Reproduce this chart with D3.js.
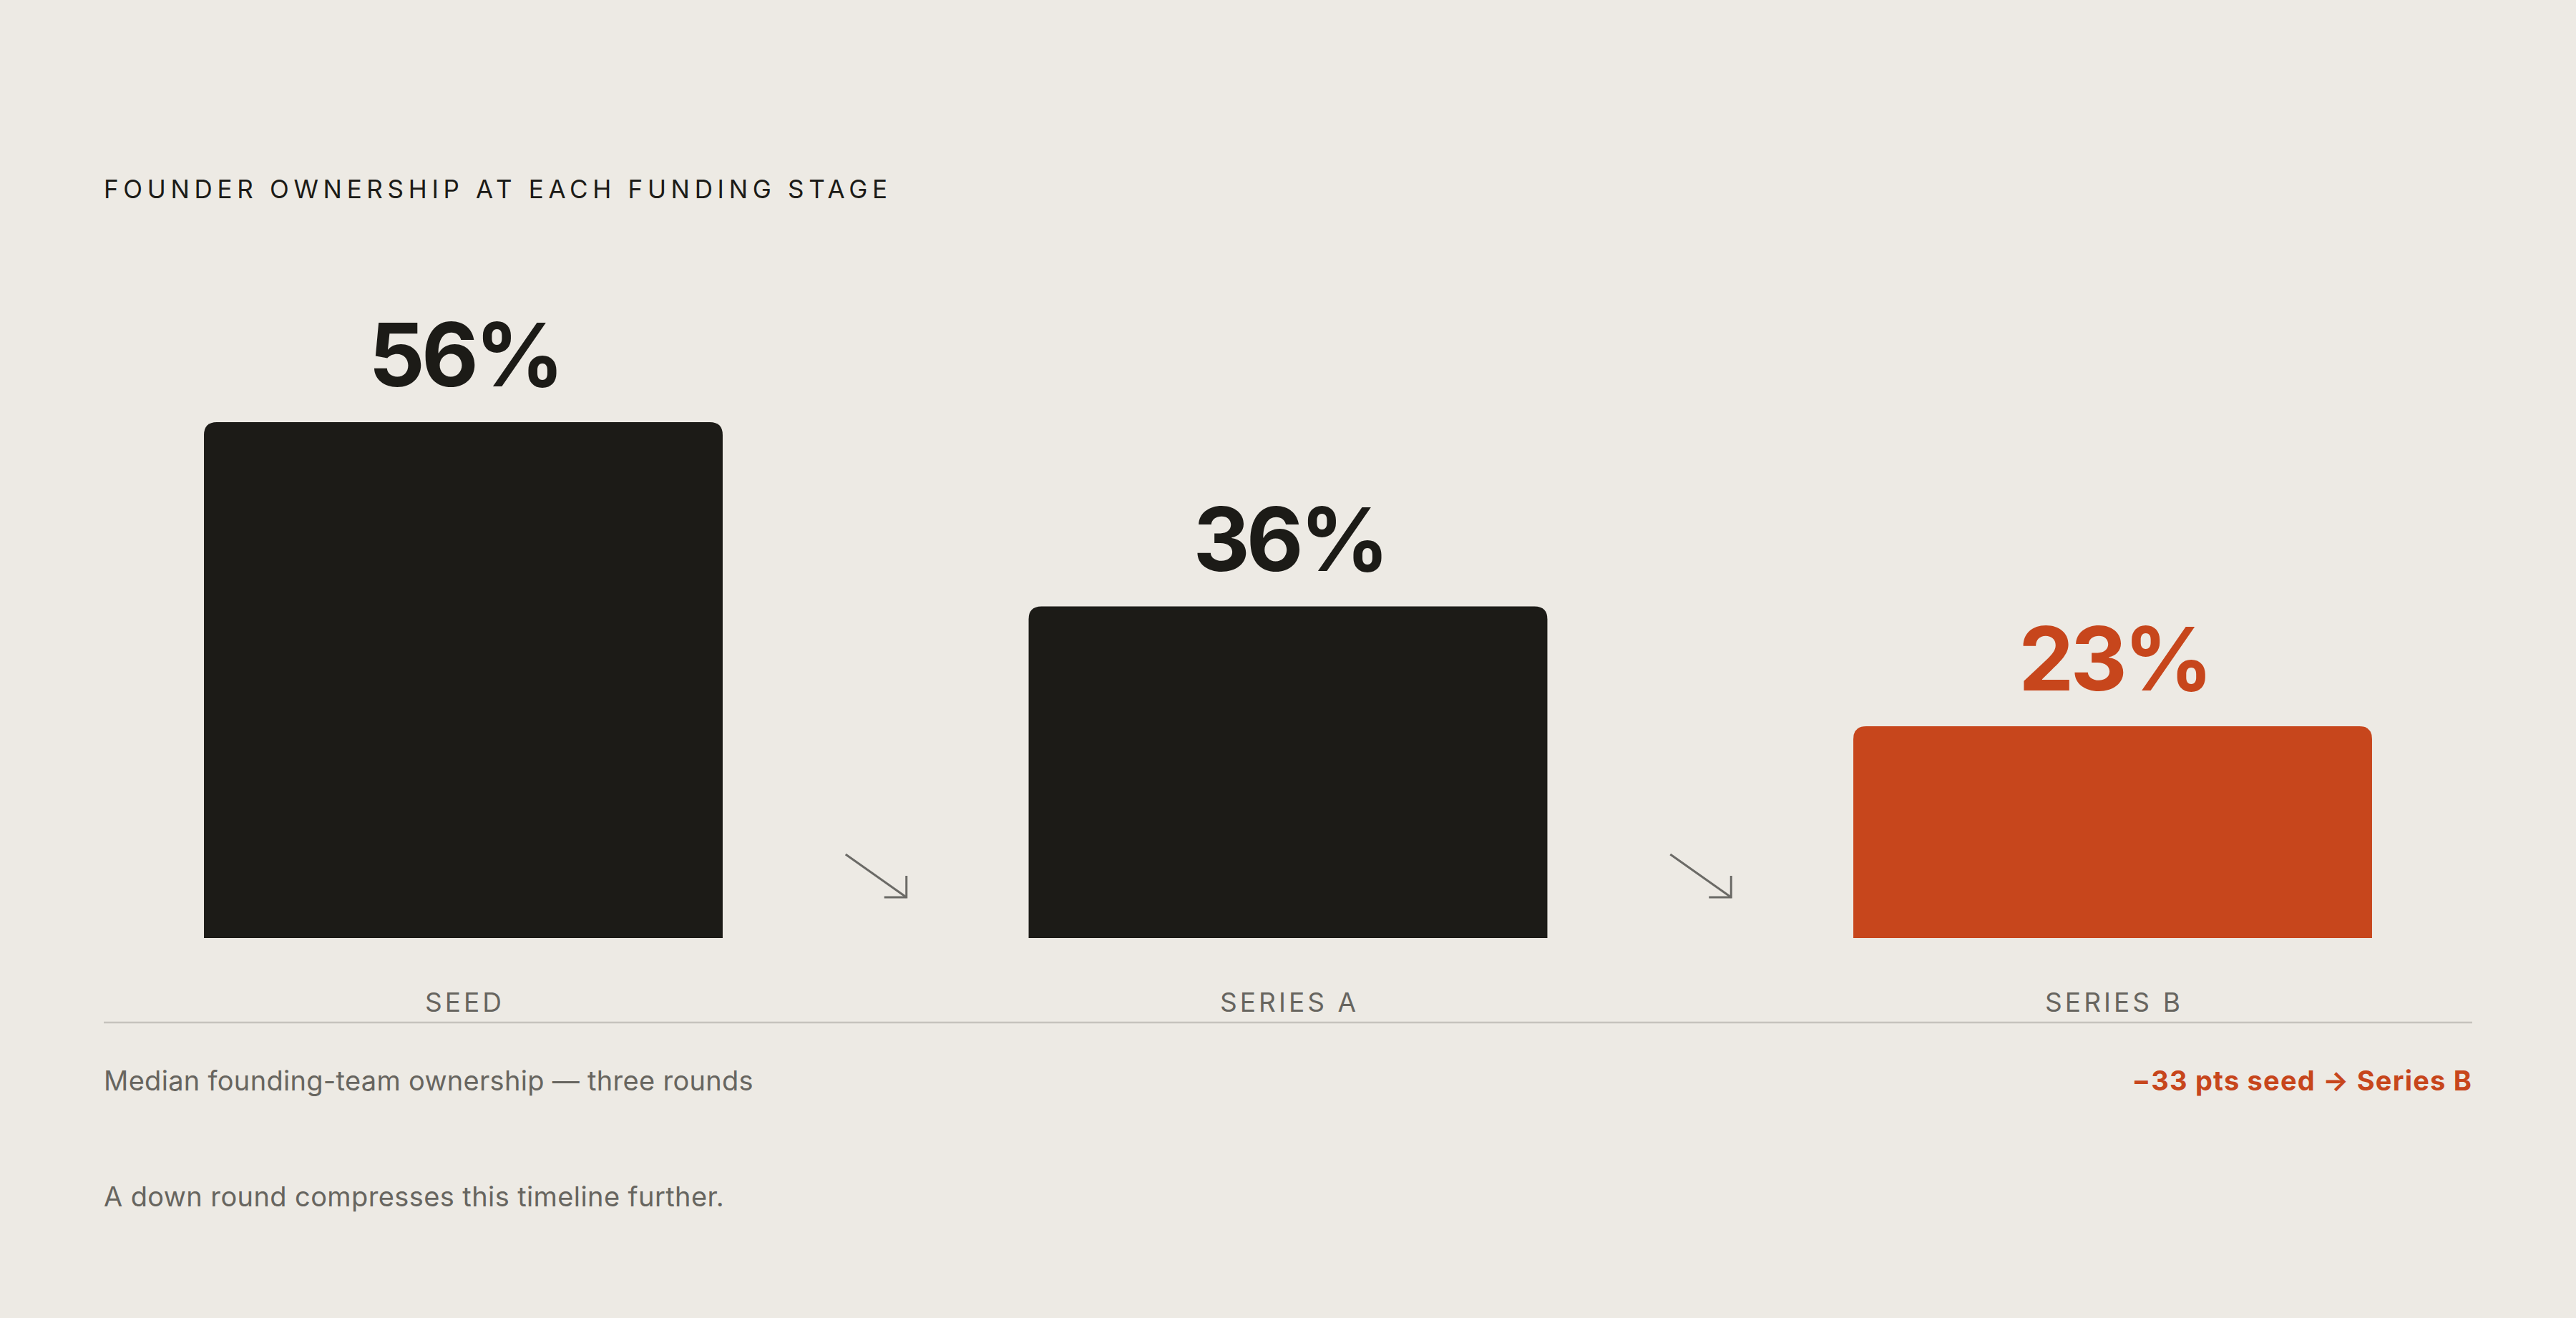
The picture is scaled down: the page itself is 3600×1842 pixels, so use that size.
<!DOCTYPE html>
<html>
<head>
<meta charset="utf-8">
<script src="https://cdn.jsdelivr.net/npm/d3@7"></script>
<style>
    body { margin: 0; background: #edeae4; }
    svg { display: block; }
    text { font-family: Inter, "Noto Sans", sans-serif; }
</style>
</head>
<body>
<div id="chart"></div>
<script>
// Data
const stages = ['SEED', 'SERIES A', 'SERIES B'];
const ownership = [56, 36, 23];
const highlightStage = 'SERIES B';

const titleText = 'FOUNDER OWNERSHIP AT EACH FUNDING STAGE';
const subtitleText = 'Median founding-team ownership — three rounds';
const noteText = '−33 pts seed → Series B';
const footerText = 'A down round compresses this timeline further.';

const width = 3600, height = 1842;
const left = 145, right = 3455;
const baseY = 1311, topY = 590;
const radius = 18;

const ink = '#1c1b17', accent = '#c7461c', muted = '#67655f';

const svg = d3.select('#chart').append('svg')
    .attr('width', width)
    .attr('height', height);

svg.append('rect')
    .attr('width', width)
    .attr('height', height)
    .attr('fill', '#edeae4');

// Title
svg.append('text')
    .attr('x', left)
    .attr('y', 277)
    .attr('fill', ink)
    .attr('font-size', 35)
    .attr('font-weight', 400)
    .attr('textLength', 1095)
    .attr('lengthAdjust', 'spacing')
    .text(titleText);

// Scales
const x = d3.scaleBand()
    .domain(stages)
    .range([left, right])
    .paddingInner(0.371)
    .paddingOuter(0.1215);

const y = d3.scaleLinear()
    .domain([0, d3.max(ownership)])
    .range([baseY, topY]);

const data = stages.map((s, i) => ({ stage: s, value: ownership[i] }));

// Bars with rounded top corners
const barPath = d => {
    const x0 = x(d.stage), x1 = x0 + x.bandwidth();
    const y0 = y(d.value), y1 = y(0);
    return `M${x0},${y1}V${y0 + radius}Q${x0},${y0} ${x0 + radius},${y0}` +
        `H${x1 - radius}Q${x1},${y0} ${x1},${y0 + radius}V${y1}Z`;
};

svg.append('g').selectAll('path')
    .data(data)
    .join('path')
    .attr('d', barPath)
    .attr('fill', d => d.stage === highlightStage ? accent : ink);

// Value labels
svg.append('g').selectAll('text')
    .data(data)
    .join('text')
    .attr('x', d => x(d.stage) + x.bandwidth() / 2 + 2)
    .attr('y', d => y(d.value) - 50)
    .attr('text-anchor', 'middle')
    .attr('font-size', 123)
    .attr('font-weight', 700)
    .attr('letter-spacing', -5)
    .attr('fill', d => d.stage === highlightStage ? accent : ink)
    .text(d => d.value + '%');

// Arrows between the bars
const gaps = d3.pairs(stages).map(([a, b]) => (x(a) + x.bandwidth() + x(b)) / 2);
const arrowG = svg.append('g')
    .attr('stroke', '#6b6a66')
    .attr('stroke-width', 3)
    .attr('fill', 'none');
gaps.forEach(cx => {
    const cy = baseY - 87;
    arrowG.append('path')
        .attr('d', `M${cx - 42},${cy - 30}L${cx + 43},${cy + 30}`);
    arrowG.append('path')
        .attr('d', `M${cx + 12},${cy + 30}H${cx + 43}V${cy}`);
});

// Stage labels
svg.append('g').selectAll('text')
    .data(stages)
    .join('text')
    .attr('x', d => x(d) + x.bandwidth() / 2 + 2)
    .attr('y', 1414)
    .attr('text-anchor', 'middle')
    .attr('font-size', 37)
    .attr('letter-spacing', '0.11em')
    .attr('fill', muted)
    .text(d => d);

// Base rule
svg.append('line')
    .attr('x1', left)
    .attr('x2', right)
    .attr('y1', 1429)
    .attr('y2', 1429)
    .attr('stroke', '#c6c3bd')
    .attr('stroke-width', 2.5);

// Footer texts
svg.append('text')
    .attr('x', left)
    .attr('y', 1524)
    .attr('font-size', 38)
    .attr('letter-spacing', 0.3)
    .attr('fill', muted)
    .text(subtitleText);

svg.append('text')
    .attr('x', right)
    .attr('y', 1524)
    .attr('text-anchor', 'end')
    .attr('font-size', 38)
    .attr('font-weight', 700)
    .attr('letter-spacing', 1.2)
    .attr('fill', accent)
    .text(noteText);

svg.append('text')
    .attr('x', left)
    .attr('y', 1686)
    .attr('font-size', 38)
    .attr('letter-spacing', 0.4)
    .attr('fill', muted)
    .text(footerText);
</script>
</body>
</html>
